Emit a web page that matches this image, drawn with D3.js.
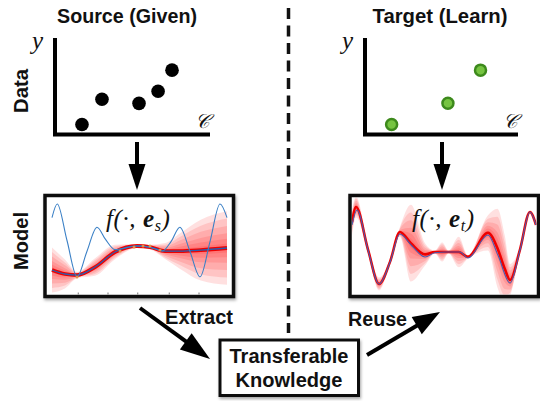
<!DOCTYPE html>
<html>
<head>
<meta charset="utf-8">
<script src="https://cdn.jsdelivr.net/npm/d3@7"></script>
<style>
  body { margin: 0; background: #fff; }
  svg { display: block; }
  .lbl { font-family: "Liberation Sans", Arial, sans-serif; font-weight: bold; fill: #111; }
  .math { font-family: "Liberation Serif", "DejaVu Serif", serif; font-style: italic; fill: #111; }
</style>
</head>
<body>
<svg id="fig" width="540" height="401"></svg>
<script>
"use strict";

// data panels, (c, y) in 0..10
var sourcePts = [[1.74, 1.04], [3.03, 3.65], [5.42, 3.23], [6.65, 4.48], [7.55, 6.67]];
var targetPts = [[1.74, 1.04], [5.42, 3.23], [7.55, 6.67]];

// source model: posterior mean / spread
var srcT    = [0, 0.74, 1.43, 2.46, 3.6, 4.86, 5.6, 6.46, 7.3, 8.5, 10];
var srcMean = [-1.375, -1.625, -1.69, -1.19, -0.25, 0.125, 0.06, -0.19, -0.19, -0.13, 0];
var srcSd   = [1.4, 0.9, 0.2, 0.55, 0.45, 0.12, 0.15, 0.5, 1.1, 1.9, 2.3];
// oscillating function shown in the source panel
var srcTrueT = [0, 0.3, 0.85, 1.43, 2.0, 2.57, 3.05, 3.6, 4.86, 5.6, 6.3, 6.8, 7.31, 7.88, 8.46, 9.03, 9.6, 10];
var srcTrue  = [1.9, 2.75, 0.5, -1.8, -0.2, 1.3, 0.55, -0.1, 0.125, 0.05, -0.2, 0.4, 1.3, -0.2, -1.8, 0.4, 2.75, 1.9];
// observed points on the source curve
var srcObs = [[1.43, -1.81], [3.89, -0.19], [4.69, 0.06], [5.2, 0.125], [5.6, 0.125], [6.17, -0.125]];
var srcTicks = [1.5, 3.2, 4.9, 6.7, 8.4];

// target model
var tgtT    = [0, 0.22, 0.87, 1.47, 2.07, 2.6, 3.2, 3.97, 4.5, 4.9, 5.25, 5.8, 6.3, 7.39, 7.9, 8.3, 8.59, 9.13, 9.67, 10];
var tgtMean = [1.6, 2.56, -0.1, -2.25, -0.85, 1.0, 0.3, -0.4, -0.25, -0.25, -0.25, -0.25, -0.55, 0.95, 0.0, -1.3, -2.0, -0.1, 2.25, 1.44];
var tgtSd   = [0.8, 0.65, 0.25, 0.4, 0.15, 0.3, 2.4, 0.7, 0.1, 0.6, 0.1, 0.95, 0.1, 1.1, 2.45, 2.1, 1.0, 0.15, 0.05, 0.05];
var tgtTrueT = [0, 0.27, 0.87, 1.47, 2.07, 2.6, 3.26, 3.97, 4.5, 5.16, 5.87, 6.3, 7.39, 7.93, 8.59, 9.13, 9.67, 10];
var tgtTrue  = [1.44, 2.375, -0.125, -2.25, -0.875, 0.875, 0.125, -0.56, -0.3, -0.25, -0.25, -0.625, 0.81, -0.44, -2.19, -0.125, 2.25, 1.44];

var bandLevels = [1, 0.8, 0.6, 0.4, 0.25, 0.12];

var svg = d3.select("#fig");

var defs = svg.append("defs");
defs.append("filter")
  .attr("id", "shadow")
  .attr("x", "-10%").attr("y", "-10%").attr("width", "120%").attr("height", "130%")
  .append("feDropShadow")
  .attr("dx", 1).attr("dy", 2).attr("stdDeviation", 1.5)
  .attr("flood-color", "#000").attr("flood-opacity", 0.35);

//虚线分隔
svg.append("line")
  .attr("x1", 288.5).attr("x2", 288.5)
  .attr("y1", 8).attr("y2", 333)
  .attr("stroke", "#111")
  .attr("stroke-width", 3.5)
  .attr("stroke-dasharray", "11 6.5");

function boldText(x, y, size, len, str, rotate) {
  var t = svg.append("text").attr("class", "lbl")
    .attr("text-anchor", "middle")
    .attr("font-size", size)
    .attr("textLength", len)
    .attr("lengthAdjust", "spacingAndGlyphs")
    .text(str);
  if (rotate) {
    t.attr("transform", "translate(" + x + "," + y + ") rotate(-90)");
  } else {
    t.attr("x", x).attr("y", y);
  }
  return t;
}

// titles
boldText(127, 23, 19.5, 140, "Source (Given)");
boldText(440, 23, 19.5, 135, "Target (Learn)");
boldText(28, 91, 20, 44, "Data", true);
boldText(28, 241, 20, 58, "Model", true);

// data panels
var dataY = d3.scaleLinear().domain([0, 10]).range([134.5, 38]);

function dataPanel(xRange, pts, fill, stroke) {
  var x = d3.scaleLinear().domain([0, 10]).range(xRange);
  var g = svg.append("g");
  g.append("path")
    .attr("d", "M" + x(0) + "," + dataY(10) + "V" + dataY(0) + "H" + x(10))
    .attr("fill", "none")
    .attr("stroke", "#000")
    .attr("stroke-width", 4);
  g.selectAll("circle")
    .data(pts)
    .enter()
    .append("circle")
    .attr("cx", function(d) { return x(d[0]); })
    .attr("cy", function(d) { return dataY(d[1]); })
    .attr("r", stroke ? 5.5 : 6.8)
    .attr("fill", fill)
    .attr("stroke", stroke || "none")
    .attr("stroke-width", 2.5);
  g.append("text").attr("class", "math")
    .attr("x", x(0) - 23).attr("y", 49)
    .attr("font-size", 25)
    .text("y");
  g.append("text").attr("class", "math")
    .attr("x", x(10) - 15).attr("y", 128)
    .attr("font-size", 20)
    .attr("font-weight", "normal")
    .text("\uD835\uDC9E");
  return x;
}

dataPanel([55, 210], sourcePts, "#000", null);
dataPanel([365, 518], targetPts, "#76c441", "#3d8a1c");

// arrows
function arrow(x1, y1, x2, y2, headLen, headW, w) {
  var dx = x2 - x1, dy = y2 - y1;
  var len = Math.sqrt(dx * dx + dy * dy);
  var ux = dx / len, uy = dy / len;
  var bx = x2 - ux * headLen, by = y2 - uy * headLen;
  svg.append("line")
    .attr("x1", x1).attr("y1", y1)
    .attr("x2", bx + ux).attr("y2", by + uy)
    .attr("stroke", "#000").attr("stroke-width", w);
  var pts = [
    [x2, y2],
    [bx - uy * headW / 2, by + ux * headW / 2],
    [bx + uy * headW / 2, by - ux * headW / 2]
  ];
  svg.append("polygon")
    .attr("points", pts.map(function(p) { return p.join(","); }).join(" "))
    .attr("fill", "#000");
}

arrow(137, 142, 137, 190, 26, 17, 4);
arrow(442, 142, 442, 190, 26, 17, 4);
arrow(140, 308, 210, 359, 30, 20, 4);
arrow(367, 355, 440, 312, 27, 20, 4);

// model panels
var modelY = d3.scaleLinear().domain([-3, 3]).range([296, 200]);

function modelPanel(opt) {
  var x = d3.scaleLinear().domain([0, 10]).range(opt.xRange);
  var box = opt.box;
  var clipId = "clip-" + opt.id;

  svg.append("rect")
    .attr("x", box[0]).attr("y", box[1])
    .attr("width", box[2]).attr("height", box[3])
    .attr("fill", "#fff")
    .attr("stroke", "#111")
    .attr("stroke-width", 3.5)
    .attr("filter", "url(#shadow)");

  defs.append("clipPath").attr("id", clipId)
    .append("rect")
    .attr("x", box[0] + 2).attr("y", box[1] + 2)
    .attr("width", box[2] - 4).attr("height", box[3] - 4);

  var g = svg.append("g").attr("clip-path", "url(#" + clipId + ")");

  var rows = opt.t.map(function(t, i) { return { t: t, m: opt.mean[i], s: opt.sd[i] }; });

  bandLevels.forEach(function(k) {
    var area = d3.area()
      .x(function(d) { return x(d.t); })
      .y0(function(d) { return modelY(d.m - k * d.s); })
      .y1(function(d) { return modelY(d.m + k * d.s); })
      .curve(d3.curveMonotoneX);
    g.append("path")
      .attr("d", area(rows))
      .attr("fill", "#ff0000")
      .attr("fill-opacity", 0.12);
  });

  var meanLine = d3.line()
    .x(function(d) { return x(d.t); })
    .y(function(d) { return modelY(d.m); })
    .curve(d3.curveMonotoneX);
  g.append("path")
    .attr("d", meanLine(rows))
    .attr("fill", "none")
    .attr("stroke", "#ee0000")
    .attr("stroke-width", opt.meanWidth);

  if (opt.fitColor) {
    g.append("path")
      .attr("d", meanLine(rows))
      .attr("fill", "none")
      .attr("stroke", opt.fitColor)
      .attr("stroke-width", 1.3);
  }

  var trueLine = d3.line()
    .x(function(d) { return x(d[0]); })
    .y(function(d) { return modelY(d[1]); })
    .curve(d3.curveMonotoneX);
  g.append("path")
    .attr("d", trueLine(d3.zip(opt.trueT, opt.trueV)))
    .attr("fill", "none")
    .attr("stroke", opt.trueColor)
    .attr("stroke-width", 1.1);

  if (opt.obs) {
    g.selectAll("circle.obs")
      .data(opt.obs)
      .enter()
      .append("circle")
      .attr("class", "obs")
      .attr("cx", function(d) { return x(d[0]); })
      .attr("cy", function(d) { return modelY(d[1]); })
      .attr("r", 1.5)
      .attr("fill", "#e0904a");
  }

  if (opt.ticks) {
    g.selectAll("line.tick")
      .data(opt.ticks)
      .enter()
      .append("line")
      .attr("class", "tick")
      .attr("x1", function(d) { return x(d); })
      .attr("x2", function(d) { return x(d); })
      .attr("y1", 292.5).attr("y2", 295)
      .attr("stroke", "#777")
      .attr("stroke-width", 1);
  }

  var label = svg.append("text").attr("class", "math")
    .attr("x", opt.labelX).attr("y", 227)
    .attr("font-size", 25)
    .attr("letter-spacing", 0.6);
  label.append("tspan").text("f(\u00B7, ");
  label.append("tspan").attr("font-weight", "bold").text("e");
  label.append("tspan").attr("font-size", 16).attr("dy", 4).text(opt.sub);
  label.append("tspan").attr("dy", -4).text(")");
}

modelPanel({
  id: "src",
  box: [45, 195.5, 188.5, 101],
  xRange: [52, 227],
  t: srcT, mean: srcMean, sd: srcSd,
  trueT: srcTrueT, trueV: srcTrue,
  trueColor: "#3b80c6",
  fitColor: "#2f5cab",
  meanWidth: 3.8,
  obs: srcObs,
  ticks: srcTicks,
  labelX: 106,
  sub: "s"
});

modelPanel({
  id: "tgt",
  box: [350, 195.5, 188.5, 101],
  xRange: [352, 536],
  t: tgtT, mean: tgtMean, sd: tgtSd,
  trueT: tgtTrueT, trueV: tgtTrue,
  trueColor: "#4a5bb0",
  fitColor: null,
  meanWidth: 2.6,
  labelX: 412,
  sub: "t"
});

// knowledge box
svg.append("rect")
  .attr("x", 220).attr("y", 340)
  .attr("width", 138.5).attr("height", 55.5)
  .attr("fill", "#fff")
  .attr("stroke", "#111")
  .attr("stroke-width", 3)
  .attr("filter", "url(#shadow)");
boldText(289, 363, 19.5, 119, "Transferable");
boldText(289, 387, 19.5, 107, "Knowledge");
boldText(199, 324, 19.5, 68, "Extract");
boldText(377.5, 326, 19.5, 59, "Reuse");
</script>
</body>
</html>
